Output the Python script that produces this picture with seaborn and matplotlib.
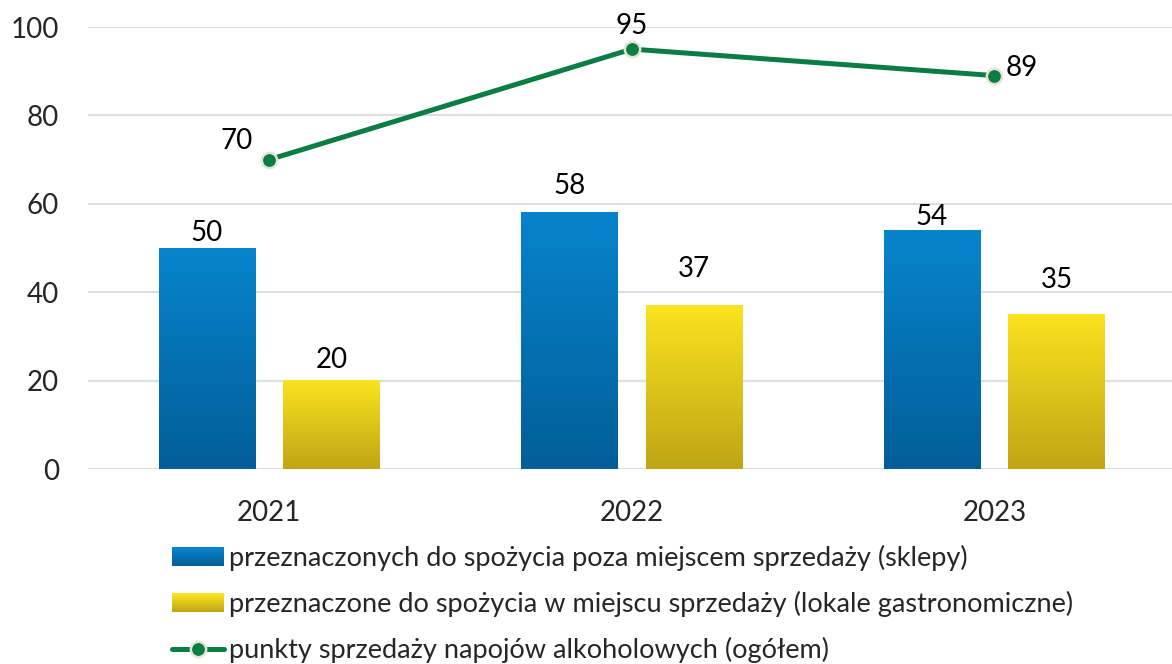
import numpy as np
import pandas as pd
import matplotlib
matplotlib.use('Agg')
import matplotlib.pyplot as plt
import seaborn as sns
from matplotlib.colors import LinearSegmentedColormap
from matplotlib.patches import Patch, Rectangle
from matplotlib.lines import Line2D
from matplotlib.legend_handler import HandlerBase

# -----------------------

years = ['2021', '2022', '2023']
sklepy = [50, 58, 54]
lokale = [20, 37, 35]
ogolem = [70, 95, 89]

lab_sklepy = 'przeznaczonych do spożycia poza miejscem sprzedaży (sklepy)'
lab_lokale = 'przeznaczone do spożycia w miejscu sprzedaży (lokale gastronomiczne)'
lab_ogolem = 'punkty sprzedaży napojów alkoholowych (ogółem)'

# gradient colours (top, bottom)
blue = ('#0784CD', '#025E98')
yellow = ('#FAE31F', '#C0A515')
green = '#0A7D45'
edge = '#E6E2D6'

# -----------------------

sns.set_theme(style='white')
plt.rcParams['font.family'] = ['Lato', 'DejaVu Sans']

df = pd.DataFrame({'year': years * 2, 'val': sklepy + lokale,
	'typ': [lab_sklepy] * 3 + [lab_lokale] * 3})
df_line = pd.DataFrame({'year': years, 'val': ogolem})

W, H = 1172, 664
fig = plt.figure(figsize=(W / 100, H / 100), dpi=100)
ax = fig.add_axes([88 / W, 1 - 469 / H, (W - 88) / W, (469 - 27) / H])

sns.barplot(data=df, x='year', y='val', hue='typ', order=years,
	hue_order=[lab_sklepy, lab_lokale], palette=[blue[0], yellow[0]],
	width=0.688, gap=0.224, ax=ax, legend=False, zorder=2)

# label offsets above bars differ per bar, as in the original
pads = [[1.7, 9.6, 0.0], [5.3, 16.8, 15.4]]

# replace flat bars with vertical gradients
grad = np.linspace(0, 1, 256).reshape(-1, 1)
for cont, cols, pd_ in zip(ax.containers, [blue, yellow], pads):
	cmap = LinearSegmentedColormap.from_list('g', [cols[0], cols[1]])
	for p, pad in zip(cont.patches, pd_):
		x, w, h = p.get_x(), p.get_width(), p.get_height()
		p.set_facecolor('none')
		p.set_edgecolor('none')
		ax.imshow(grad, extent=[x, x + w, 0, h], origin='upper', aspect='auto',
			cmap=cmap, zorder=2)
		ax.annotate(str(int(h)), (x + w / 2, h), xytext=(0, pad),
			textcoords='offset points', ha='center', va='bottom',
			fontsize=20, color='black')

sns.pointplot(data=df_line, x='year', y='val', order=years, color=green,
	errorbar=None, markers='o', linestyles='-', ax=ax,
	markersize=11, linewidth=3.6, markeredgecolor=edge, markeredgewidth=1.8)
for l in ax.lines:
	l.set_zorder(4)

offs = [(-33, 19), (0, 23), (27, 8)]
for i, v in enumerate(ogolem):
	ax.annotate(str(v), (i, v), xytext=offs[i], textcoords='offset pixels',
		ha='center', va='center', fontsize=20, color='black', annotation_clip=False)

ax.set_xlim(-0.5, 2.49)
ax.set_ylim(0, 100)
ax.set_yticks([0, 20, 40, 60, 80, 100])
ax.set(xlabel=None, ylabel=None)
ax.yaxis.grid(True, color='#DCE0E0', lw=1.6)
ax.xaxis.grid(False)
ax.set_axisbelow(True)
sns.despine(ax=ax, left=True, bottom=True)
ax.tick_params(axis='y', length=0, pad=21, labelsize=20)
ax.tick_params(axis='x', length=0, pad=22, labelsize=20)


class GradHandler(HandlerBase):
	# legend swatch drawn as horizontal strips, light on top, dark below
	def create_artists(self, legend, orig, xd, yd, width, height, fontsize, trans):
		cols = orig.cols
		cmap = LinearSegmentedColormap.from_list('g', [cols[1], cols[0]])
		n = 12
		out = []
		for k in range(n):
			r = Rectangle((-xd, -yd + height * k / n), width, height / n + 0.3,
				facecolor=cmap(k / (n - 1)), edgecolor='none', transform=trans)
			out.append(r)
		return out


h_blue = Patch(facecolor=blue[0]); h_blue.cols = blue
h_yellow = Patch(facecolor=yellow[0]); h_yellow.cols = yellow
h_line = Line2D([], [], color=green, lw=3.6, marker='o', markersize=11,
	markeredgecolor=edge, markeredgewidth=1.8)

fig.legend([h_blue, h_yellow, h_line], [lab_sklepy, lab_lokale, lab_ogolem],
	loc='upper left', bbox_to_anchor=(172 / W, 1 - 545 / H), frameon=False,
	fontsize=19.5, handlelength=1.92, handletextpad=0.18, labelspacing=0.74,
	borderaxespad=0, borderpad=0,
	handler_map={h_blue: GradHandler(), h_yellow: GradHandler()})

plt.savefig('out.png', dpi=100)
